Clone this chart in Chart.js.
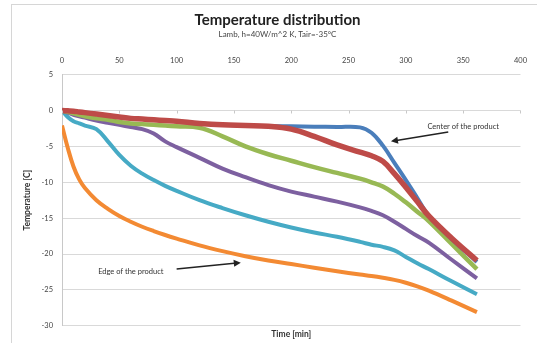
<!DOCTYPE html>
<html>
<head>
<meta charset="utf-8">
<script src="https://cdn.jsdelivr.net/npm/chart.js@4/dist/chart.umd.min.js"></script>
<style>
  html, body { margin: 0; padding: 0; background: #fff; }
</style>
</head>
<body>
<canvas id="chart" width="537" height="343"></canvas>
<script>
// time in minutes, shared by every curve
const times = [0, 5, 10, 15, 20, 30, 40, 50, 60, 70, 80, 90, 100, 120, 140, 160, 180, 200, 220, 240, 260, 270, 280, 290, 300, 310, 320, 340, 362];

// temperatures [C], centre of the product -> edge
const centre = [0, -0.05, -0.1, -0.2, -0.3, -0.5, -0.7, -0.9, -1.1, -1.2, -1.3, -1.4, -1.5, -1.8, -2.0, -2.1, -2.2, -2.2, -2.25, -2.3, -2.35, -3.1, -4.9, -7.3, -9.7, -12.2, -14.7, -17.9, -21.1];
const layer2 = [0, -0.05, -0.1, -0.2, -0.3, -0.5, -0.7, -0.9, -1.1, -1.2, -1.3, -1.4, -1.5, -1.8, -2.0, -2.1, -2.2, -2.6, -3.6, -4.8, -5.8, -6.3, -7.1, -8.8, -10.7, -12.7, -14.7, -17.8, -20.9];
const layer3 = [0, -0.2, -0.4, -0.6, -0.8, -1.1, -1.3, -1.6, -1.8, -1.9, -2.0, -2.1, -2.2, -2.4, -3.6, -5.0, -6.1, -7.0, -7.9, -8.7, -9.5, -10.0, -10.6, -11.6, -12.8, -14.1, -15.4, -18.6, -22.1];
const layer4 = [0, -0.3, -0.6, -0.8, -1.0, -1.4, -1.7, -2.0, -2.3, -2.6, -3.2, -4.3, -5.1, -6.6, -8.1, -9.3, -10.4, -11.3, -12.0, -12.7, -13.5, -14.0, -14.6, -15.5, -16.5, -17.5, -18.4, -20.8, -23.4];
const layer5 = [0, -0.9, -1.5, -1.8, -2.1, -2.6, -4.3, -6.2, -7.7, -8.8, -9.7, -10.5, -11.2, -12.5, -13.6, -14.6, -15.5, -16.3, -17.0, -17.6, -18.3, -18.7, -19.0, -19.5, -20.4, -21.3, -22.1, -23.8, -25.6];
const edge = [-2.1, -5.2, -7.8, -9.6, -10.8, -12.5, -13.7, -14.7, -15.5, -16.2, -16.8, -17.35, -17.85, -18.8, -19.6, -20.3, -20.9, -21.4, -21.9, -22.4, -22.85, -23.05, -23.3, -23.6, -24.0, -24.5, -25.1, -26.5, -28.1];

const xTicks = [0, 50, 100, 150, 200, 250, 300, 350, 400];
const yTicks = [5, 0, -5, -10, -15, -20, -25, -30];

// callouts, in data units (text point, arrow tail, arrow tip)
const notes = [
  { text: 'Center of the product', tx: 350, ty: -2.2, ax: 337, ay: -3.0, bx: 287, by: -4.3 },
  { text: 'Edge of the product', tx: 60, ty: -22.4, ax: 100, ay: -22.1, bx: 156, by: -21.2 }
];

const font = 'Lato, "Open Sans", sans-serif';
const pts = arr => times.map((t, i) => ({ x: t, y: arr[i] }));

const line = (data, color, width) => ({
  data: pts(data),
  borderColor: color,
  backgroundColor: color,
  borderWidth: width,
  pointRadius: 0,
  fill: false,
  tension: 0.4
});

const extras = {
  id: 'extras',
  beforeDraw(chart) {
    const c = chart.ctx;
    c.save();
    c.fillStyle = '#fff';
    c.fillRect(0, 0, chart.width, chart.height);
    c.strokeStyle = '#d6d6d6';
    c.lineWidth = 1;
    c.strokeRect(11.5, 4.5, chart.width, chart.height);
    c.restore();
  },
  afterDatasetsDraw(chart) {
    const c = chart.ctx;
    const x = chart.scales.x, y = chart.scales.y;
    c.save();
    // little tick marks on the zero line
    const y0 = Math.round(y.getPixelForValue(0)) + 0.5;
    c.strokeStyle = '#c8c8c8';
    c.lineWidth = 1;
    xTicks.forEach(v => {
      const px = Math.round(x.getPixelForValue(v)) + 0.5;
      c.beginPath();
      c.moveTo(px, y0);
      c.lineTo(px, y0 + 3);
      c.stroke();
    });
    // callouts
    c.font = '7.5px ' + font;
    c.textAlign = 'center';
    c.textBaseline = 'middle';
    notes.forEach(n => {
      c.fillStyle = '#333';
      c.fillText(n.text, x.getPixelForValue(n.tx), y.getPixelForValue(n.ty));
      const ax = x.getPixelForValue(n.ax), ay = y.getPixelForValue(n.ay);
      const bx = x.getPixelForValue(n.bx), by = y.getPixelForValue(n.by);
      const ang = Math.atan2(by - ay, bx - ax);
      c.strokeStyle = '#222';
      c.lineWidth = 1.5;
      c.beginPath();
      c.moveTo(ax, ay);
      c.lineTo(bx - 4 * Math.cos(ang), by - 4 * Math.sin(ang));
      c.stroke();
      c.fillStyle = '#222';
      c.beginPath();
      c.moveTo(bx, by);
      c.lineTo(bx - 7 * Math.cos(ang) + 3.5 * Math.sin(ang), by - 7 * Math.sin(ang) - 3.5 * Math.cos(ang));
      c.lineTo(bx - 7 * Math.cos(ang) - 3.5 * Math.sin(ang), by - 7 * Math.sin(ang) + 3.5 * Math.cos(ang));
      c.closePath();
      c.fill();
    });
    c.restore();
  }
};

const ctx = document.getElementById('chart').getContext('2d');
const myChart = new Chart(ctx, {
  type: 'line',
  data: {
    datasets: [
      line(layer2, '#BE4B48', 5.5),
      line(centre, '#4A7EBB', 4),
      line(layer3, '#98B954', 4.5),
      line(layer4, '#7D60A0', 4),
      line(layer5, '#46AAC5', 4),
      line(edge, '#F38A33', 4)
    ]
  },
  options: {
    responsive: false,
    animation: false,
    layout: { padding: { left: 18, right: 0, top: 4, bottom: 4 } },
    plugins: {
      legend: { display: false },
      tooltip: { enabled: false },
      title: {
        display: true,
        text: 'Temperature distribution',
        color: '#222',
        font: { family: font, size: 15, weight: 'bold' },
        padding: { top: 7, bottom: 1 }
      },
      subtitle: {
        display: true,
        text: 'Lamb, h=40W/m^2 K, Tair=-35°C',
        color: '#444',
        font: { family: font, size: 8 },
        padding: { top: 0, bottom: 0 }
      }
    },
    scales: {
      x: {
        type: 'linear',
        position: 'top',
        min: 0,
        max: 400,
        afterBuildTicks: s => { s.ticks = xTicks.map(v => ({ value: v })); },
        afterFit: s => { s.height = 35; },
        grid: { display: false, drawTicks: false },
        border: { display: false },
        ticks: { color: '#444', font: { family: font, size: 7.5 }, padding: 10, maxRotation: 0 }
      },
      x2: {
        type: 'linear',
        position: 'bottom',
        min: 0,
        max: 400,
        grid: { display: false, drawTicks: false },
        border: { display: false },
        ticks: { display: false },
        title: {
          display: true,
          text: 'Time [min]',
          color: '#333',
          font: { family: font, size: 8.5, weight: 'bold' },
          padding: { top: 3, bottom: 0 }
        }
      },
      y: {
        min: -30,
        max: 5,
        afterBuildTicks: s => { s.ticks = yTicks.map(v => ({ value: v })); },
        afterFit: s => { s.width = 44; },
        grid: { color: '#d9d9d9', drawTicks: false },
        border: { display: true, color: '#c8c8c8' },
        ticks: { color: '#444', font: { family: font, size: 7.5 }, padding: 9 },
        title: {
          display: true,
          text: 'Temperature [C]',
          color: '#333',
          font: { family: font, size: 8.5, weight: 'bold' },
          padding: { top: 4, bottom: 0 }
        }
      },
      y2: {
        position: 'right',
        min: -30,
        max: 5,
        afterFit: s => { s.width = 15; },
        grid: { display: false, drawTicks: false },
        border: { display: false },
        ticks: { display: false }
      }
    }
  },
  plugins: [extras]
});
</script>
</body>
</html>
